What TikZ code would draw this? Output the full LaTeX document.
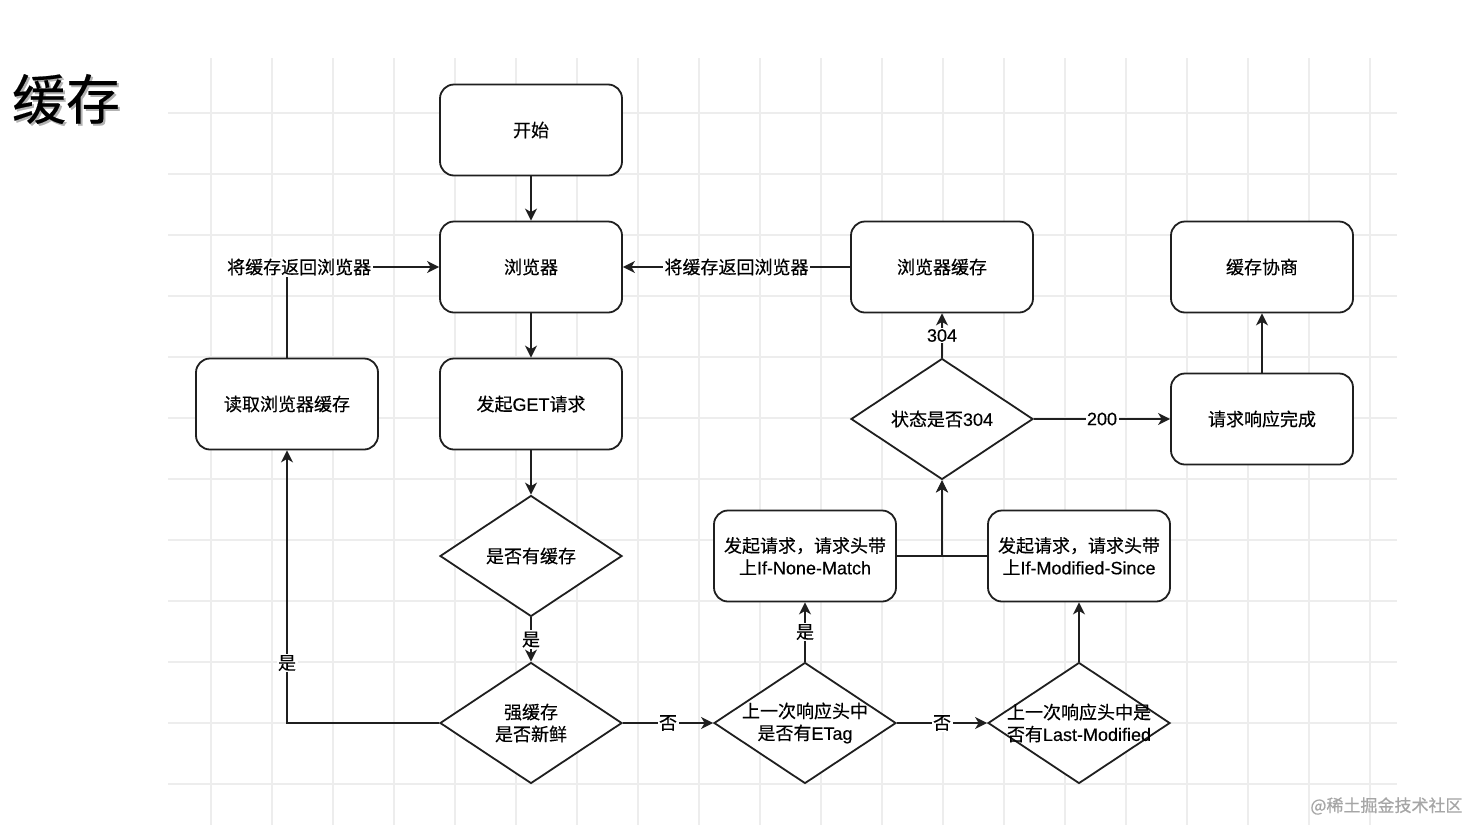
\documentclass[tikz,border=0pt]{standalone}
\usepackage{fontspec}
\setmainfont{Noto Sans CJK SC}[FakeBold=0.35]
\newfontfamily\latf{Liberation Sans}[FakeBold=0.35]
\newcommand\ltn[1]{{\latf #1}}
\newcommand\fs{\fontsize{18}{22}\selectfont}
\usetikzlibrary{shapes.geometric,arrows.meta}
\begin{document}
\begin{tikzpicture}[x=1pt,y=-1pt,
  gridline/.style={draw=black!7, line width=1.3pt},
  box/.style={draw=black!88, line width=1.8pt, rounded corners=14pt, fill=white,
    minimum width=182pt, minimum height=91pt, align=center, font=\fs, inner sep=2pt},
  dia/.style={draw=black!88, diamond, line width=1.8pt, fill=white,
    minimum width=182pt, minimum height=121pt, inner sep=0pt},
  diatext/.style={align=center, font=\fs},
  conn/.style={draw=black!88, line width=1.8pt, -{Stealth[length=12pt,width=12pt,inset=3.5pt]}},
  elab/.style={fill=white, inner sep=1.5pt, font=\fs}]
\useasboundingbox (0,0) rectangle (1471,825);
\fill[white] (0,0) rectangle (1471,825);
% background grid
\begin{scope}
\clip (168,58) rectangle (1397,825);
\foreach \i in {0,...,19} \draw[gridline] ({211+61*\i},58) -- ({211+61*\i},825);
\foreach \j in {0,...,11} \draw[gridline] (168,{113+61*\j}) -- (1397,{113+61*\j});
\end{scope}
% title
\node[font=\fontsize{54}{60}\selectfont, text=black!30] (titleshadow) at (68,101) {缓存};
\node[font=\fontsize{54}{60}\selectfont] (title) at (66,99) {缓存};
% nodes
\node[box] (start) at (531,130) {开始};
\node[box] (browser) at (531,267) {浏览器};
\node[box] (get) at (531,404) {发起\ltn{GET}请求};
\node[dia] (hascache) at (531,556) {};
\node[diatext] (hascachet) at (hascache) {是否有缓存};
\node[dia] (strong) at (531,723) {};
\node[diatext] (strongt) at (strong) {强缓存\\是否新鲜};
\node[box] (read) at (287,404) {读取浏览器缓存};
\node[dia] (etag) at (805,723) {};
\node[diatext] (etagt) at (etag) {上一次响应头中\\是否有\ltn{ETag}};
\node[dia] (lastmod) at (1079,723) {};
\node[diatext] (lastmodt) at (lastmod) {上一次响应头中是\\否有\ltn{Last-Modified}};
\node[box] (inm) at (805,556) {发起请求，请求头带\\上\ltn{If-None-Match}};
\node[box] (ims) at (1079,556) {发起请求，请求头带\\上\ltn{If-Modified-Since}};
\node[dia] (status) at (942,419) {};
\node[diatext] (statust) at (status) {状态是否\ltn{304}};
\node[box] (bcache) at (942,267) {浏览器缓存};
\node[box] (done) at (1262,419) {请求响应完成};
\node[box] (nego) at (1262,267) {缓存协商};
% connectors
\draw[conn] (start) -- (browser);
\draw[conn] (browser) -- (get);
\draw[conn] (get) -- (hascache);
\draw[conn] (hascache) -- node[elab]{是} (strong);
\draw[conn] (strong.west) -| node[elab, pos=0.61]{是} (read.south);
\draw[conn] (read.north) |- node[elab, pos=0.54]{将缓存返回浏览器} (browser.west);
\draw[conn] (strong) -- node[elab]{否} (etag);
\draw[conn] (etag) -- node[elab]{是} (inm);
\draw[conn] (etag) -- node[elab]{否} (lastmod);
\draw[conn] (lastmod) -- (ims);
\draw[conn] (inm.east) -| (status.south);
\draw[conn] (ims.west) -| (status.south);
\draw[conn] (status) -- node[elab]{\ltn{304}} (bcache);
\draw[conn] (status) -- node[elab]{\ltn{200}} (done);
\draw[conn] (done) -- (nego);
\draw[conn] (bcache) -- node[elab]{将缓存返回浏览器} (browser);
% watermark
\node[font=\fontsize{17}{20}\selectfont, text=black!35, anchor=east] (wm) at (1466,806) {@稀土掘金技术社区};
\end{tikzpicture}
\end{document}
